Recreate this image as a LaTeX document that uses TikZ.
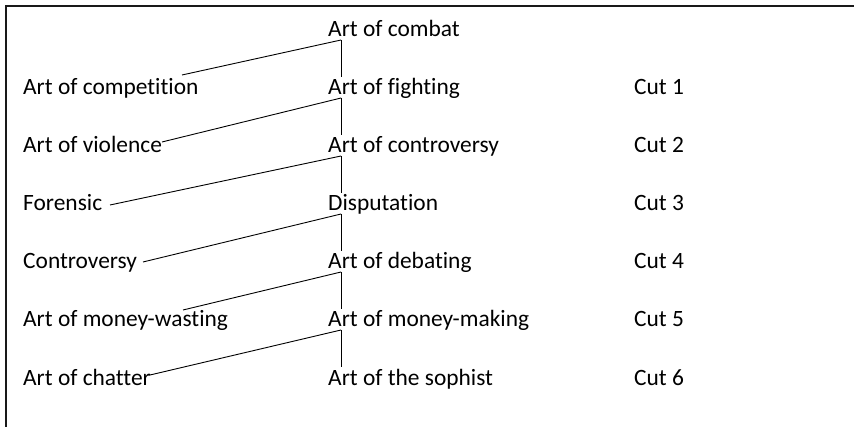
\documentclass[tikz,border=0pt]{standalone}
\usepackage{fontspec}
\setmainfont{Carlito}[Ligatures=NoCommon]
\usetikzlibrary{calc}
\begin{document}
\begin{tikzpicture}[x=1pt,y=-1pt,
  lbl/.style={anchor=base west, inner sep=0pt, font=\fontsize{23.4}{27}\selectfont},
  link/.style={draw=black, line width=0.9pt},
  frameline/.style={draw=black!90, line width=2pt}]
\useasboundingbox (0,0) rectangle (854,427);
\draw[frameline] (854,6.5) -- (5.5,6.5) -- (5.5,427);
% middle column
\node[lbl] (m0) at (328,37)  {Art of combat};
\node[lbl] (m1) at (328,95)  {Art of fighting};
\node[lbl] (m2) at (328,153) {Art of controversy};
\node[lbl] (m3) at (328,211) {Disputation};
\node[lbl] (m4) at (328,269) {Art of debating};
\node[lbl] (m5) at (328,327) {Art of money-making};
\node[lbl] (m6) at (328,385) {Art of the sophist};
% left column
\node[lbl] (l1) at (23,95)  {Art of competition};
\node[lbl] (l2) at (23,153) {Art of violence};
\node[lbl] (l3) at (23,211) {Forensic};
\node[lbl] (l4) at (23,269) {Controversy};
\node[lbl] (l5) at (23,327) {Art of money-wasting};
\node[lbl] (l6) at (23,385) {Art of chatter};
% cuts
\foreach \k/\b in {1/95,2/153,3/211,4/269,5/327,6/385}
  \node[lbl] (c\k) at (634,\b) {Cut \k};
% connectors
\foreach \k [count=\n from 1] in {0,...,5} {
  \coordinate (j\k) at ($(m\k.base west)+(13,3)$);
  \coordinate (v\k) at ($(m\n.base west)+(13,-18)$);
  \draw[link] (j\k) -- (v\k);
}
\coordinate (e1) at ($(l1.base west)+(159,-20)$);
\coordinate (e2) at ($(l2.base west)+(139,-11)$);
\coordinate (e3) at ($(l3.base west)+(87,-6)$);
\coordinate (e4) at ($(l4.base west)+(120,-7)$);
\coordinate (e5) at ($(l5.base west)+(160,-17)$);
\coordinate (e6) at ($(l6.base west)+(127,-10)$);
\draw[link] (j0) -- (e1);
\draw[link] (j1) -- (e2);
\draw[link] (j2) -- (e3);
\draw[link] (j3) -- (e4);
\draw[link] (j4) -- (e5);
\draw[link] (j5) -- (e6);
\end{tikzpicture}
\end{document}
